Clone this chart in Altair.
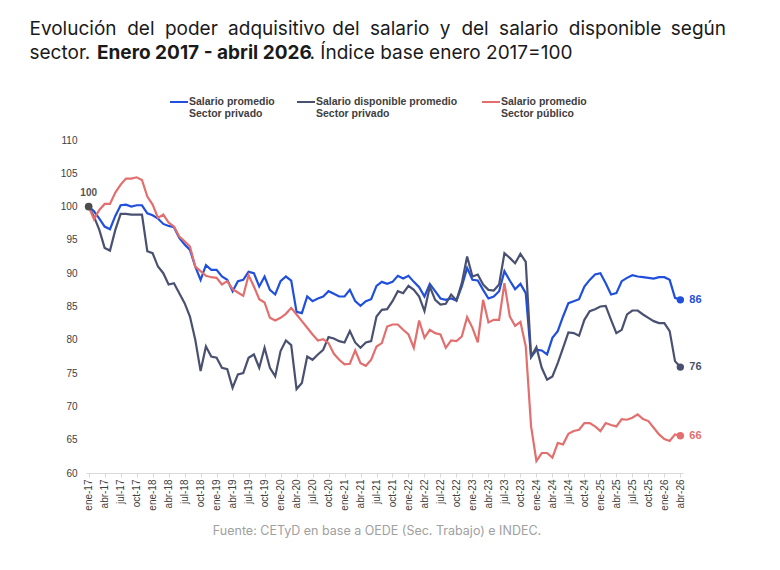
import altair as alt
import pandas as pd

# ---------------- data ----------------
meses = ["ene", "feb", "mar", "abr", "may", "jun", "jul", "ago", "sep", "oct", "nov", "dic"]
anios = ["17", "18", "19", "20", "21", "22", "23", "24", "25", "26"]
etiquetas = [f"{m}-{a}" for a in anios for m in meses][:112]

series = [
    "Salario promedio Sector privado",
    "Salario disponible promedio Sector privado",
    "Salario promedio Sector público",
]

privado = [
    100, 99.3, 98.2, 97.0, 96.6, 98.6, 100.2, 100.3, 100.0, 100.2, 100.2, 99.0,
    98.7, 98.2, 97.4, 97.1, 96.9, 95.3, 94.3, 93.5, 91.0, 89.0, 91.2, 90.5,
    90.5, 89.5, 89.0, 87.3, 88.8, 89.0, 90.2, 90.0, 88.0, 89.5, 87.5, 86.8,
    88.8, 89.5, 88.9, 84.2, 84.0, 86.5, 85.8, 86.2, 86.5, 87.3, 86.9, 86.5,
    86.5, 87.5, 85.8, 85.1, 85.8, 86.1, 88.1, 88.7, 88.4, 88.7, 89.6, 89.2,
    89.6, 88.7, 87.9, 86.5, 88.4, 87.3, 86.2, 86.0, 86.2, 85.9, 88.0, 90.8,
    89.0, 88.9, 87.5, 86.2, 86.5, 87.3, 90.3, 88.9, 87.6, 88.4, 87.0, 77.4,
    78.5, 78.4, 77.8, 80.3, 81.3, 83.5, 85.5, 85.8, 86.1, 88.0, 89.0, 89.8,
    90.0, 88.5, 86.8, 87.0, 88.8, 89.3, 89.7, 89.5, 89.4, 89.3, 89.2, 89.4,
    89.4, 89.0, 86.3, 86.0,
]

disponible = [
    100, 98.5, 96.5, 93.8, 93.4, 96.5, 98.9, 98.9, 98.8, 98.8, 98.8, 93.3,
    93.0, 91.0, 90.0, 88.3, 88.5, 87.0, 85.5, 83.5, 80.0, 75.3, 79.0, 77.5,
    77.3, 75.8, 75.6, 72.8, 74.8, 75.0, 77.3, 77.8, 75.8, 78.8, 75.8, 74.5,
    78.3, 79.9, 79.2, 72.6, 73.5, 77.5, 77.0, 77.8, 78.5, 80.4, 80.2, 79.8,
    79.6, 81.3, 79.6, 78.8, 79.6, 79.8, 83.5, 84.5, 84.6, 85.8, 87.3, 87.0,
    88.1, 87.5, 86.5, 84.3, 88.0, 86.0, 85.3, 85.4, 86.8, 85.9, 88.5, 92.5,
    89.5, 89.8, 88.3, 87.5, 87.4, 88.3, 93.0, 92.3, 91.5, 92.9, 91.7, 77.5,
    78.9, 75.8, 74.0, 74.5, 76.5, 78.8, 81.1, 81.0, 80.6, 83.0, 84.3, 84.6,
    85.0, 85.1, 83.0, 81.0, 81.5, 83.8, 84.4, 84.4, 83.8, 83.3, 82.8, 82.5,
    82.5, 81.3, 76.8, 75.9,
]

publico = [
    100, 98.1, 99.5, 100.4, 100.4, 102.1, 103.3, 104.2, 104.2, 104.4, 104.0, 101.5,
    100.3, 98.3, 98.8, 97.6, 97.0, 95.5, 94.8, 94.0, 91.0, 90.3, 89.6, 89.4,
    89.3, 88.3, 88.8, 87.6, 87.1, 86.6, 89.7, 88.0, 86.1, 85.6, 83.3, 82.9,
    83.3, 83.9, 84.8, 83.8, 82.8, 81.8, 80.8, 79.9, 80.1, 79.5, 77.9, 77.0,
    76.3, 76.4, 78.4, 76.5, 76.1, 77.0, 79.0, 79.5, 82.0, 82.3, 82.3, 81.5,
    80.8, 78.8, 82.9, 80.3, 81.5, 81.0, 80.8, 78.8, 79.9, 79.8, 80.5, 83.4,
    81.8, 79.6, 86.0, 82.6, 83.0, 83.0, 88.5, 83.5, 82.1, 82.7, 79.0, 67.0,
    61.8, 63.0, 63.0, 62.3, 64.5, 64.3, 65.9, 66.3, 66.5, 67.5, 67.5, 67.0,
    66.3, 67.5, 67.2, 67.0, 68.1, 68.0, 68.3, 68.8, 68.1, 67.8, 66.8, 65.8,
    65.1, 64.8, 65.8, 65.6,
]

fuente = "Fuente: CETyD en base a OEDE (Sec. Trabajo) e INDEC."

colores = ["#1f4fdc", "#4a5170", "#e26f6e"]

rows = []
for s, vals in zip(series, [privado, disponible, publico]):
    for i, (m, v) in enumerate(zip(etiquetas, vals)):
        rows.append({"mes": m, "idx": i, "serie": s, "valor": v})
df = pd.DataFrame(rows)

# ---------------- layout ----------------
W, H = 597, 333
PAD_L, PAD_T = 78, 132
OX, OY = PAD_L + 8, PAD_T + 8  # page coords of plot origin


def px(x):
    return x - OX


def py(y):
    return y - OY


one = pd.DataFrame({"k": [0]})

x_enc = alt.X(
    "mes:N",
    sort=etiquetas,
    scale=alt.Scale(type="point", padding=0.5),
    axis=alt.Axis(
        values=etiquetas[::3],
        labelAngle=270,
        labelFont="Liberation Sans",
        labelFontSize=10,
        labelColor="#404040",
        labelPadding=2,
        tickColor="#d9d9d9",
        tickSize=4,
        domainColor="#d9d9d9",
        grid=False,
        title=None,
    ),
)
y_enc = alt.Y(
    "valor:Q",
    scale=alt.Scale(domain=[60, 110], nice=False, zero=False),
    axis=alt.Axis(
        values=[60, 65, 70, 75, 80, 85, 90, 95, 100, 105, 110],
        labelFont="Liberation Sans",
        labelFontSize=10,
        labelColor="#404040",
        labelPadding=9,
        ticks=False,
        domain=False,
        grid=False,
        title=None,
    ),
)
c_enc = alt.Color("serie:N", scale=alt.Scale(domain=series, range=colores), legend=None)

base = alt.Chart(df).encode(x=x_enc, y=y_enc, color=c_enc)

lineas = base.mark_line(strokeWidth=2.2).encode(order=alt.Order("idx:Q"))
fin = base.transform_filter(alt.datum.idx == 111)
puntos_fin = fin.mark_circle(size=55, opacity=1)
textos_fin = fin.mark_text(
    align="left", baseline="middle", dx=9, font="Liberation Sans", fontSize=11, fontWeight="bold"
).encode(text=alt.Text("valor:Q", format=".0f"))

inicio = alt.Chart(df).transform_filter(
    (alt.datum.idx == 0) & (alt.datum.serie == series[1])
).encode(x=x_enc, y=y_enc)
punto_ini = inicio.mark_circle(size=60, opacity=1, color="#4d4d4d")
texto_ini = inicio.mark_text(
    dy=-14, font="Liberation Sans", fontSize=10, fontWeight="bold", color="#555555"
).encode(text=alt.Text("valor:Q", format=".0f"))

deco = []

# title
title_font = "Inter"
title_size = 19
linea1 = [
    ("Evolución", 29.5), ("del", 127.2), ("poder", 164.9), ("adquisitivo", 228.1), ("del", 332.3),
    ("salario", 370), ("y", 439.7), ("del", 461.4), ("salario", 499.1), ("disponible", 568.8),
]
for w, x in linea1:
    deco.append(
        alt.Chart(one).mark_text(
            align="left", baseline="alphabetic", font=title_font, fontSize=title_size, color="#1a1a1a"
        ).encode(x=alt.value(px(x)), y=alt.value(py(35)), text=alt.value(w))
    )
deco.append(
    alt.Chart(one).mark_text(
        align="right", baseline="alphabetic", font=title_font, fontSize=title_size, color="#1a1a1a"
    ).encode(x=alt.value(px(726)), y=alt.value(py(35)), text=alt.value("según"))
)
linea2 = [
    ("sector.", 29.5, "normal"),
    ("Enero 2017 - abril 2026", 97, "bold"),
    (". Índice base enero 2017=100", 309.5, "normal"),
]
for w, x, fw in linea2:
    deco.append(
        alt.Chart(one).mark_text(
            align="left", baseline="alphabetic", font=title_font, fontSize=title_size,
            fontWeight=fw, color="#1a1a1a"
        ).encode(x=alt.value(px(x)), y=alt.value(py(58.5)), text=alt.value(w))
    )

# legend
leyenda = [
    (170, ["Salario promedio", "Sector privado"], colores[0]),
    (297, ["Salario disponible promedio", "Sector privado"], colores[1]),
    (482, ["Salario promedio", "Sector público"], colores[2]),
]
for x0, textos, col in leyenda:
    deco.append(
        alt.Chart(one).mark_rule(strokeWidth=2, color=col).encode(
            x=alt.value(px(x0)), x2=alt.value(px(x0 + 18)), y=alt.value(py(102))
        )
    )
    for j, t in enumerate(textos):
        deco.append(
            alt.Chart(one).mark_text(
                align="left", baseline="middle", font="Liberation Sans", fontSize=10.5,
                fontWeight="bold", color="#404040"
            ).encode(x=alt.value(px(x0 + 19)), y=alt.value(py(102 + 12 * j)), text=alt.value(t))
        )

# source
deco.append(
    alt.Chart(one).mark_text(
        align="center", baseline="middle", font="Inter", fontSize=12.5, color="#a0a0a0"
    ).encode(x=alt.value(px(377)), y=alt.value(py(531)), text=alt.value(fuente))
)

chart = alt.layer(
    lineas, puntos_fin, textos_fin, punto_ini, texto_ini, *deco
).properties(
    width=W,
    height=H,
    padding={"left": PAD_L, "top": PAD_T, "right": 764 - PAD_L - W, "bottom": 554 - PAD_T - H},
    autosize=alt.AutoSizeParams(type="none"),
    background="white",
).configure_view(stroke=None)

chart.save("out.html", embed_options={"renderer": "svg", "actions": False})
